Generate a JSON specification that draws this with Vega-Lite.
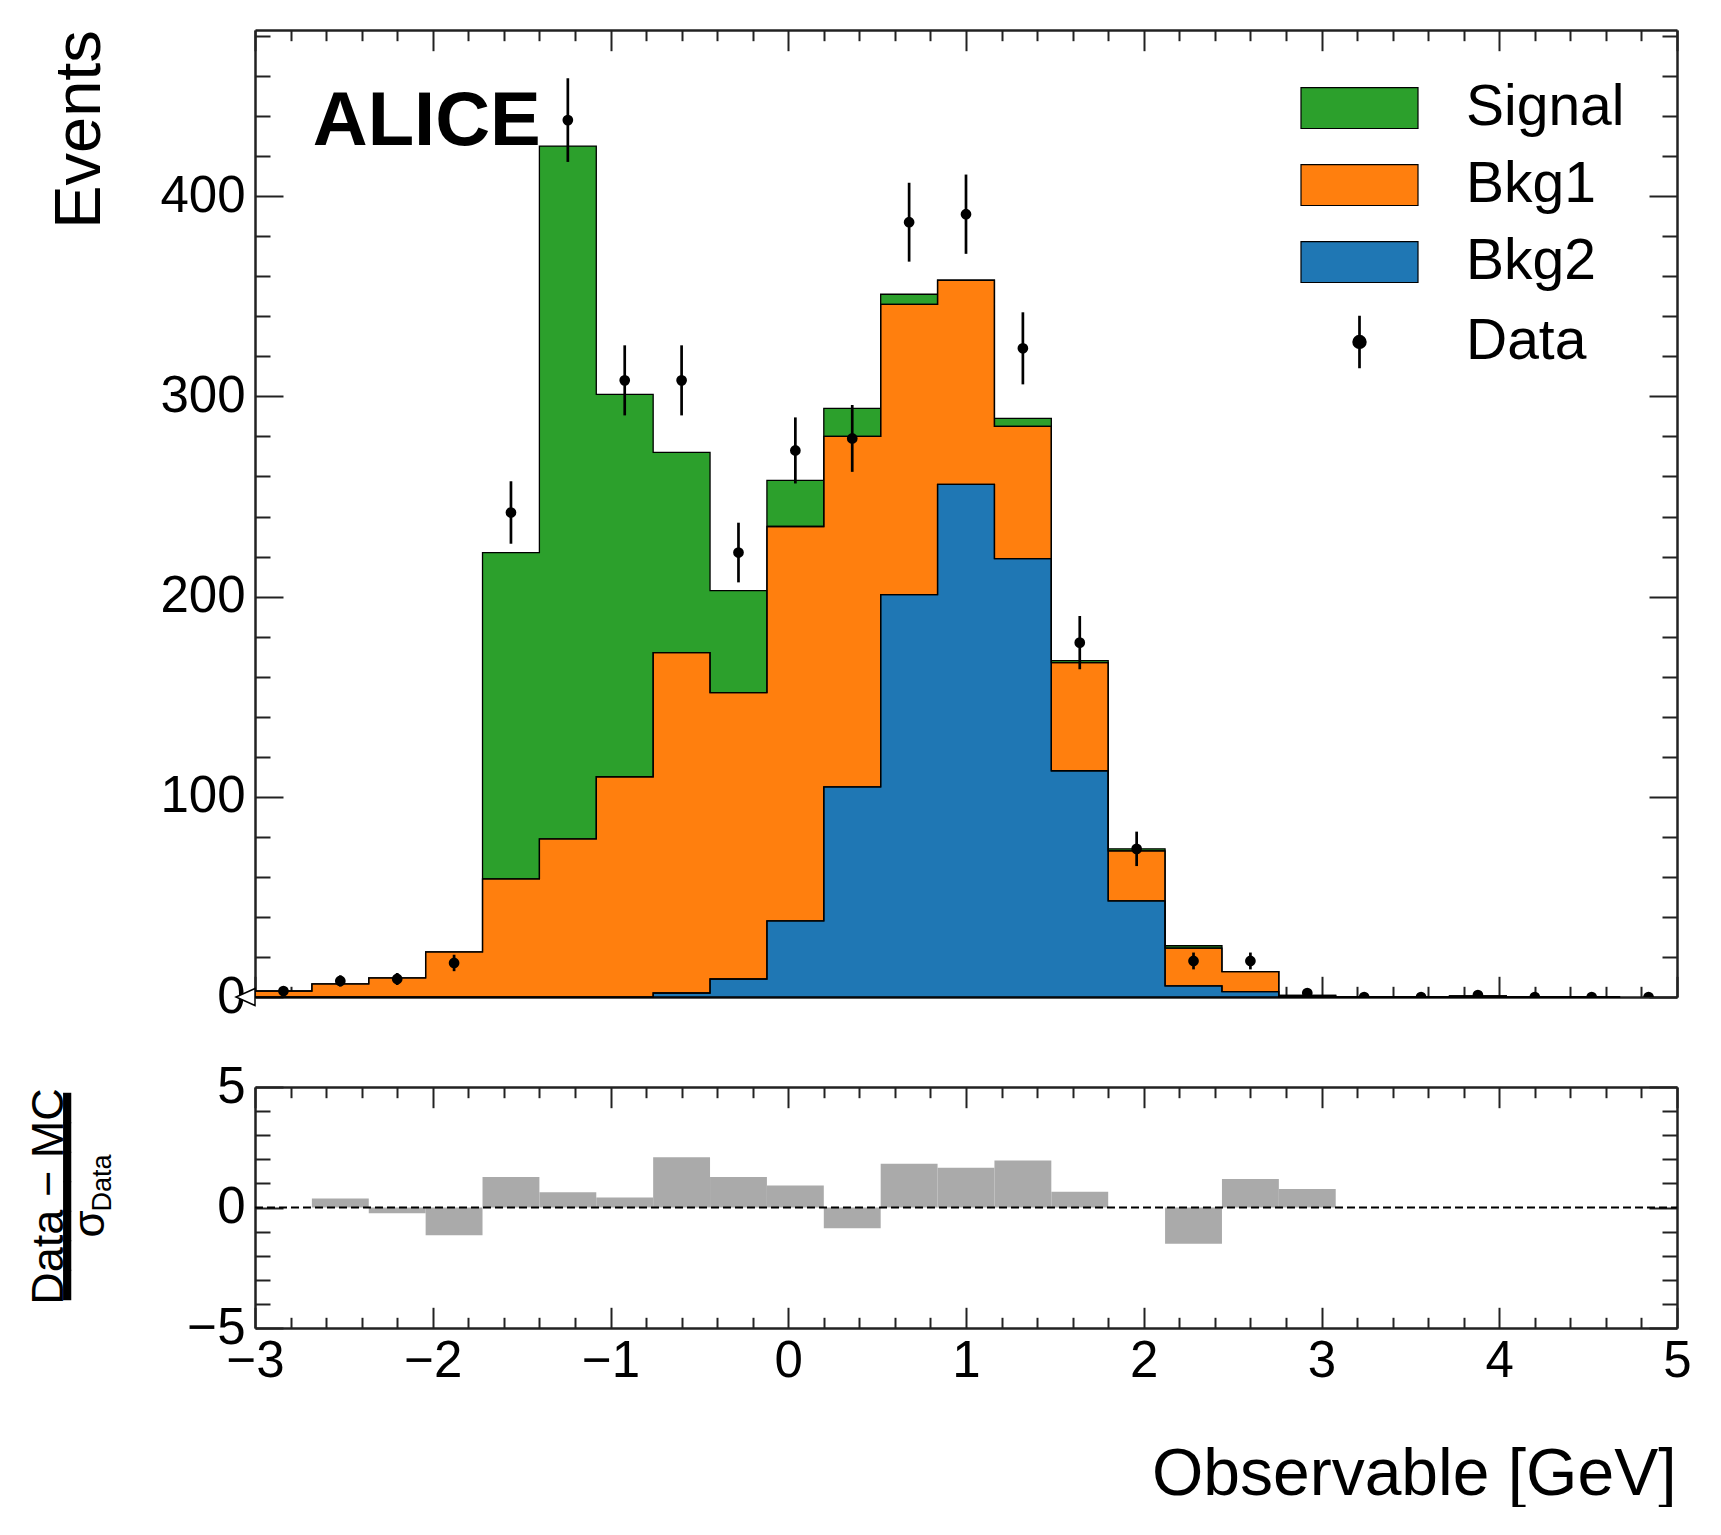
{
  "$schema": "https://vega.github.io/schema/vega-lite/v6.json",
  "background": "white",
  "padding": {"left": 26, "top": 29, "right": 0, "bottom": 0},
  "bounds": "flush",
  "spacing": 90,
  "datasets": {
    "bins": [
      {"lo": -3.00, "hi": -2.68, "c": -2.84, "Signal": 0, "Bkg1": 3, "Bkg2": 0, "data": 3, "dlo": 1.3, "dhi": 4.7, "pull": 0},
      {"lo": -2.68, "hi": -2.36, "c": -2.52, "Signal": 0, "Bkg1": 6.6, "Bkg2": 0, "data": 8, "dlo": 5.2, "dhi": 10.8, "pull": 0.37},
      {"lo": -2.36, "hi": -2.04, "c": -2.20, "Signal": 0, "Bkg1": 9.6, "Bkg2": 0, "data": 9, "dlo": 6, "dhi": 12, "pull": -0.24},
      {"lo": -2.04, "hi": -1.72, "c": -1.88, "Signal": 0, "Bkg1": 22.5, "Bkg2": 0, "data": 17, "dlo": 12.9, "dhi": 21.1, "pull": -1.15},
      {"lo": -1.72, "hi": -1.40, "c": -1.56, "Signal": 163, "Bkg1": 59, "Bkg2": 0, "data": 242, "dlo": 226.4, "dhi": 257.6, "pull": 1.27},
      {"lo": -1.40, "hi": -1.08, "c": -1.24, "Signal": 346, "Bkg1": 79, "Bkg2": 0, "data": 438, "dlo": 417.1, "dhi": 458.9, "pull": 0.63},
      {"lo": -1.08, "hi": -0.76, "c": -0.92, "Signal": 191, "Bkg1": 110, "Bkg2": 0, "data": 308, "dlo": 290.5, "dhi": 325.5, "pull": 0.41},
      {"lo": -0.76, "hi": -0.44, "c": -0.60, "Signal": 100, "Bkg1": 170, "Bkg2": 2, "data": 308, "dlo": 290.5, "dhi": 325.5, "pull": 2.08},
      {"lo": -0.44, "hi": -0.12, "c": -0.28, "Signal": 51, "Bkg1": 143, "Bkg2": 9, "data": 222, "dlo": 207.1, "dhi": 236.9, "pull": 1.27},
      {"lo": -0.12, "hi": 0.20, "c": 0.04, "Signal": 23, "Bkg1": 197, "Bkg2": 38, "data": 273, "dlo": 256.5, "dhi": 289.5, "pull": 0.91},
      {"lo": 0.20, "hi": 0.52, "c": 0.36, "Signal": 14, "Bkg1": 175, "Bkg2": 105, "data": 279, "dlo": 262.3, "dhi": 295.7, "pull": -0.86},
      {"lo": 0.52, "hi": 0.84, "c": 0.68, "Signal": 5, "Bkg1": 145, "Bkg2": 201, "data": 387, "dlo": 367.3, "dhi": 406.7, "pull": 1.82},
      {"lo": 0.84, "hi": 1.16, "c": 1.00, "Signal": 0, "Bkg1": 102, "Bkg2": 256, "data": 391, "dlo": 371.2, "dhi": 410.8, "pull": 1.65},
      {"lo": 1.16, "hi": 1.48, "c": 1.32, "Signal": 4, "Bkg1": 66, "Bkg2": 219, "data": 324, "dlo": 306, "dhi": 342, "pull": 1.95},
      {"lo": 1.48, "hi": 1.80, "c": 1.64, "Signal": 1, "Bkg1": 54, "Bkg2": 113, "data": 177, "dlo": 163.7, "dhi": 190.3, "pull": 0.65},
      {"lo": 1.80, "hi": 2.12, "c": 1.96, "Signal": 1, "Bkg1": 25, "Bkg2": 48, "data": 74, "dlo": 65.4, "dhi": 82.6, "pull": 0},
      {"lo": 2.12, "hi": 2.44, "c": 2.28, "Signal": 1.2, "Bkg1": 18.8, "Bkg2": 5.6, "data": 18, "dlo": 13.8, "dhi": 22.2, "pull": -1.5},
      {"lo": 2.44, "hi": 2.76, "c": 2.60, "Signal": 0, "Bkg1": 10, "Bkg2": 2.7, "data": 18, "dlo": 13.8, "dhi": 22.2, "pull": 1.18},
      {"lo": 2.76, "hi": 3.08, "c": 2.92, "Signal": 0, "Bkg1": 0.75, "Bkg2": 0, "data": 2, "dlo": 0.6, "dhi": 3.4, "pull": 0.77},
      {"lo": 3.08, "hi": 3.40, "c": 3.24, "Signal": 0, "Bkg1": 0, "Bkg2": 0, "data": 0, "dlo": 0, "dhi": 0, "pull": 0},
      {"lo": 3.40, "hi": 3.72, "c": 3.56, "Signal": 0, "Bkg1": 0, "Bkg2": 0, "data": 0, "dlo": 0, "dhi": 0, "pull": 0},
      {"lo": 3.72, "hi": 4.04, "c": 3.88, "Signal": 0, "Bkg1": 0.6, "Bkg2": 0, "data": 1, "dlo": 0, "dhi": 2, "pull": 0},
      {"lo": 4.04, "hi": 4.36, "c": 4.20, "Signal": 0, "Bkg1": 0, "Bkg2": 0, "data": 0, "dlo": 0, "dhi": 0, "pull": 0},
      {"lo": 4.36, "hi": 4.68, "c": 4.52, "Signal": 0, "Bkg1": 0, "Bkg2": 0, "data": 0, "dlo": 0, "dhi": 0, "pull": 0},
      {"lo": 4.68, "hi": 5.00, "c": 4.84, "Signal": 0, "Bkg1": 0, "Bkg2": 0, "data": 0, "dlo": 0, "dhi": 0, "pull": 0}
    ]
  },
  "vconcat": [
    {
      "width": 1422,
      "height": 967,
      "data": {"name": "bins"},
      "layer": [
        {
          "transform": [
            {"fold": ["Signal", "Bkg1", "Bkg2"], "as": ["comp", "n"]},
            {"calculate": "indexof(['Bkg2', 'Bkg1', 'Signal'], datum.comp)", "as": "k"}
          ],
          "mark": {"type": "area", "interpolate": "step-after", "opacity": 1},
          "encoding": {
            "x": {
              "field": "lo",
              "type": "quantitative",
              "scale": {"domain": [-3, 5], "nice": false, "zero": false},
              "axis": {"orient": "bottom", "values": [-3, -2, -1, 0, 1, 2, 3, 4, 5], "tickSize": -20.7, "labels": false, "domain": true, "title": null}
            },
            "y": {
              "field": "n",
              "type": "quantitative",
              "stack": "zero",
              "scale": {"domain": [0, 483], "nice": false},
              "axis": {
                "orient": "left",
                "values": [0, 100, 200, 300, 400],
                "tickSize": -28,
                "labelPadding": 38,
                "domain": true,
                "title": "Events",
                "titleFontSize": 65,
                "titleAngle": 270,
                "titleX": -156,
                "titleY": 99,
                "titleAlign": "center",
                "titleBaseline": "alphabetic"
              }
            },
            "color": {
              "field": "comp",
              "type": "nominal",
              "scale": {"domain": ["Signal", "Bkg1", "Bkg2", "Data"], "range": ["#2ca02c", "#ff7f0e", "#1f77b4", "black"]},
              "legend": {
                "orient": "none",
                "legendX": 1076,
                "legendY": 49.5,
                "title": null,
                "padding": 0,
                "symbolType": "M-1,-0.35L1,-0.35L1,0.35L-1,0.35Z",
                "symbolSize": 13689,
                "symbolStrokeColor": "black",
                "symbolStrokeWidth": 1.2,
                "symbolOpacity": 1,
                "rowPadding": 19,
                "labelOffset": 78,
                "labelFont": "Liberation Sans",
                "labelFontSize": 57,
                "labelColor": "black",
                "labelLimit": 400,
                "encode": {
                  "symbols": {
                    "update": {
                      "shape": {"signal": "datum.value === 'Data' ? 'M0,-0.45L0,0.45M0.1,0A0.1,0.1,0,1,1,-0.1,0A0.1,0.1,0,1,1,0.1,0Z' : 'M-1,-0.35L1,-0.35L1,0.35L-1,0.35Z'"},
                      "stroke": {"value": "black"},
                      "strokeWidth": {"signal": "datum.value === 'Data' ? 2.7 : 1.2"}
                    }
                  }
                }
              }
            },
            "order": {"field": "k", "type": "quantitative"}
          }
        },
        {
          "transform": [
            {"fold": ["Signal", "Bkg1", "Bkg2"], "as": ["comp", "n"]},
            {"calculate": "indexof(['Bkg2', 'Bkg1', 'Signal'], datum.comp)", "as": "k"}
          ],
          "mark": {"type": "area", "interpolate": "step-after", "fillOpacity": 0, "stroke": "black", "strokeWidth": 1.3},
          "encoding": {
            "x": {
              "field": "lo",
              "type": "quantitative",
              "scale": {"domain": [-3, 5], "nice": false, "zero": false},
              "axis": {"orient": "bottom", "values": [-2.8, -2.6, -2.4, -2.2, -1.8, -1.6, -1.4, -1.2, -0.8, -0.6, -0.4, -0.2, 0.2, 0.4, 0.6, 0.8, 1.2, 1.4, 1.6, 1.8, 2.2, 2.4, 2.6, 2.8, 3.2, 3.4, 3.6, 3.8, 4.2, 4.4, 4.6, 4.8], "tickSize": -10.7, "labels": false, "domain": false, "title": null}
            },
            "y": {
              "field": "n",
              "type": "quantitative",
              "stack": "zero",
              "scale": {"domain": [0, 483], "nice": false},
              "axis": {"orient": "left", "values": [20, 40, 60, 80, 120, 140, 160, 180, 220, 240, 260, 280, 320, 340, 360, 380, 420, 440, 460, 480], "tickSize": -15, "labels": false, "domain": false, "title": null}
            },
            "detail": {"field": "comp"},
            "order": {"field": "k", "type": "quantitative"}
          }
        },
        {
          "mark": {"type": "rule", "color": "black", "strokeWidth": 2.7, "clip": true},
          "encoding": {
            "x": {
              "field": "c",
              "type": "quantitative",
              "scale": {"domain": [-3, 5], "nice": false, "zero": false},
              "axis": {"orient": "top", "values": [-3, -2, -1, 0, 1, 2, 3, 4, 5], "tickSize": -20.7, "labels": false, "domain": true, "title": null}
            },
            "y": {
              "field": "dlo",
              "type": "quantitative",
              "scale": {"domain": [0, 483], "nice": false},
              "axis": {"orient": "right", "values": [0, 100, 200, 300, 400], "tickSize": -28, "labels": false, "domain": true, "title": null}
            },
            "y2": {"field": "dhi"}
          }
        },
        {
          "mark": {"type": "circle", "color": "black", "size": 115, "opacity": 1, "clip": true},
          "encoding": {
            "x": {
              "field": "c",
              "type": "quantitative",
              "scale": {"domain": [-3, 5], "nice": false, "zero": false},
              "axis": {"orient": "top", "values": [-2.8, -2.6, -2.4, -2.2, -1.8, -1.6, -1.4, -1.2, -0.8, -0.6, -0.4, -0.2, 0.2, 0.4, 0.6, 0.8, 1.2, 1.4, 1.6, 1.8, 2.2, 2.4, 2.6, 2.8, 3.2, 3.4, 3.6, 3.8, 4.2, 4.4, 4.6, 4.8], "tickSize": -10.7, "labels": false, "domain": false, "title": null}
            },
            "y": {
              "field": "data",
              "type": "quantitative",
              "scale": {"domain": [0, 483], "nice": false},
              "axis": {"orient": "right", "values": [20, 40, 60, 80, 120, 140, 160, 180, 220, 240, 260, 280, 320, 340, 360, 380, 420, 440, 460, 480], "tickSize": -15, "labels": false, "domain": false, "title": null}
            }
          }
        },
        {
          "data": {"values": [{}]},
          "mark": {"type": "text", "text": "ALICE", "font": "Liberation Sans", "fontSize": 76, "fontWeight": "bold", "align": "left", "baseline": "alphabetic", "color": "black"},
          "encoding": {
            "x": {"datum": -2.675, "type": "quantitative", "scale": {"domain": [-3, 5], "nice": false, "zero": false}, "axis": null},
            "y": {"datum": 425.7, "type": "quantitative", "scale": {"domain": [0, 483], "nice": false}, "axis": null}
          }
        },
        {
          "data": {"values": [{}]},
          "mark": {"type": "point", "shape": "M0,-0.85L-1.9,0L0,0.85Z", "size": 400, "filled": true, "fill": "white", "stroke": "black", "strokeWidth": 1.5, "opacity": 1},
          "encoding": {
            "x": {"datum": -3, "type": "quantitative", "scale": {"domain": [-3, 5], "nice": false, "zero": false}, "axis": null},
            "y": {"datum": 0, "type": "quantitative", "scale": {"domain": [0, 483], "nice": false}, "axis": null}
          }
        }
      ],
      "resolve": {"axis": {"x": "independent", "y": "independent"}}
    },
    {
      "width": 1422,
      "height": 241,
      "layer": [
        {
          "data": {"name": "bins"},
          "mark": {"type": "rect", "color": "#aaaaaa"},
          "encoding": {
            "x": {
              "field": "lo",
              "type": "quantitative",
              "scale": {"domain": [-3, 5], "nice": false, "zero": false},
              "axis": {
                "orient": "bottom",
                "values": [-3, -2, -1, 0, 1, 2, 3, 4, 5],
                "tickSize": -20.7,
                "labelPadding": 29,
                "domain": true,
                "title": "Observable [GeV]",
                "titleFontSize": 66,
                "titleX": 1421,
                "titleY": 166,
                "titleAlign": "right",
                "titleAnchor": "end",
                "titleBaseline": "alphabetic"
              }
            },
            "x2": {"field": "hi"},
            "y": {
              "field": "pull",
              "type": "quantitative",
              "scale": {"domain": [-5, 5], "nice": false, "zero": false},
              "axis": {
                "orient": "left",
                "values": [-5, 0, 5],
                "tickSize": -28,
                "labelPadding": 38,
                "domain": true,
                "title": "Data − MC",
                "titleFontSize": 45,
                "titleAngle": 270,
                "titleX": -193,
                "titleY": 109,
                "titleAlign": "center",
                "titleBaseline": "alphabetic"
              }
            },
            "y2": {"datum": 0}
          }
        },
        {
          "data": {"values": [{}]},
          "mark": {"type": "rule", "color": "black", "strokeWidth": 2, "strokeDash": [8, 4]},
          "encoding": {
            "x": {
              "datum": -3,
              "type": "quantitative",
              "scale": {"domain": [-3, 5], "nice": false, "zero": false},
              "axis": {"orient": "bottom", "values": [-2.8, -2.6, -2.4, -2.2, -1.8, -1.6, -1.4, -1.2, -0.8, -0.6, -0.4, -0.2, 0.2, 0.4, 0.6, 0.8, 1.2, 1.4, 1.6, 1.8, 2.2, 2.4, 2.6, 2.8, 3.2, 3.4, 3.6, 3.8, 4.2, 4.4, 4.6, 4.8], "tickSize": -10.7, "labels": false, "domain": false, "title": null}
            },
            "x2": {"datum": 5},
            "y": {
              "datum": 0,
              "type": "quantitative",
              "scale": {"domain": [-5, 5], "nice": false, "zero": false},
              "axis": {
                "orient": "left",
                "values": [-4, -3, -2, -1, 1, 2, 3, 4],
                "tickSize": -15,
                "labels": false,
                "domain": false,
                "title": "━━━━━━━",
                "titleFont": "DejaVu Sans",
                "titleFontSize": 49,
                "titleAngle": 270,
                "titleX": -186.5,
                "titleY": 109,
                "titleAlign": "center",
                "titleBaseline": "middle"
              }
            }
          }
        },
        {
          "data": {"values": [{}]},
          "mark": {"type": "point", "opacity": 0},
          "encoding": {
            "x": {
              "datum": -3,
              "type": "quantitative",
              "scale": {"domain": [-3, 5], "nice": false, "zero": false},
              "axis": {"orient": "top", "values": [-3, -2, -1, 0, 1, 2, 3, 4, 5], "tickSize": -20.7, "labels": false, "domain": true, "title": null}
            },
            "y": {
              "datum": 0,
              "type": "quantitative",
              "scale": {"domain": [-5, 5], "nice": false, "zero": false},
              "axis": {
                "orient": "right",
                "values": [-5, 0, 5],
                "tickSize": -28,
                "labels": false,
                "domain": true,
                "title": "σ",
                "titleFontSize": 44,
                "titleAngle": 270,
                "titleX": -1574,
                "titleY": 136.5,
                "titleAlign": "center",
                "titleBaseline": "alphabetic"
              }
            }
          }
        },
        {
          "data": {"values": [{}]},
          "mark": {"type": "point", "opacity": 0},
          "encoding": {
            "x": {
              "datum": -3,
              "type": "quantitative",
              "scale": {"domain": [-3, 5], "nice": false, "zero": false},
              "axis": {"orient": "top", "values": [-2.8, -2.6, -2.4, -2.2, -1.8, -1.6, -1.4, -1.2, -0.8, -0.6, -0.4, -0.2, 0.2, 0.4, 0.6, 0.8, 1.2, 1.4, 1.6, 1.8, 2.2, 2.4, 2.6, 2.8, 3.2, 3.4, 3.6, 3.8, 4.2, 4.4, 4.6, 4.8], "tickSize": -10.7, "labels": false, "domain": false, "title": null}
            },
            "y": {
              "datum": 0,
              "type": "quantitative",
              "scale": {"domain": [-5, 5], "nice": false, "zero": false},
              "axis": {
                "orient": "right",
                "values": [-4, -3, -2, -1, 1, 2, 3, 4],
                "tickSize": -15,
                "labels": false,
                "domain": false,
                "title": "Data",
                "titleFontSize": 27,
                "titleAngle": 270,
                "titleX": -1567,
                "titleY": 95.5,
                "titleAlign": "center",
                "titleBaseline": "alphabetic"
              }
            }
          }
        }
      ],
      "resolve": {"axis": {"x": "independent", "y": "independent"}}
    }
  ],
  "config": {
    "view": {"stroke": null},
    "font": "Liberation Sans",
    "axis": {
      "grid": false,
      "zindex": 1,
      "domainColor": "#222222",
      "domainWidth": 2.5,
      "tickColor": "#222222",
      "tickWidth": 2,
      "labelFont": "Liberation Sans",
      "labelFontSize": 51,
      "labelColor": "black",
      "labelFlush": false,
      "labelOverlap": false,
      "labelBound": false,
      "titleFont": "Liberation Sans",
      "titleFontWeight": "normal",
      "titleColor": "black"
    }
  }
}
